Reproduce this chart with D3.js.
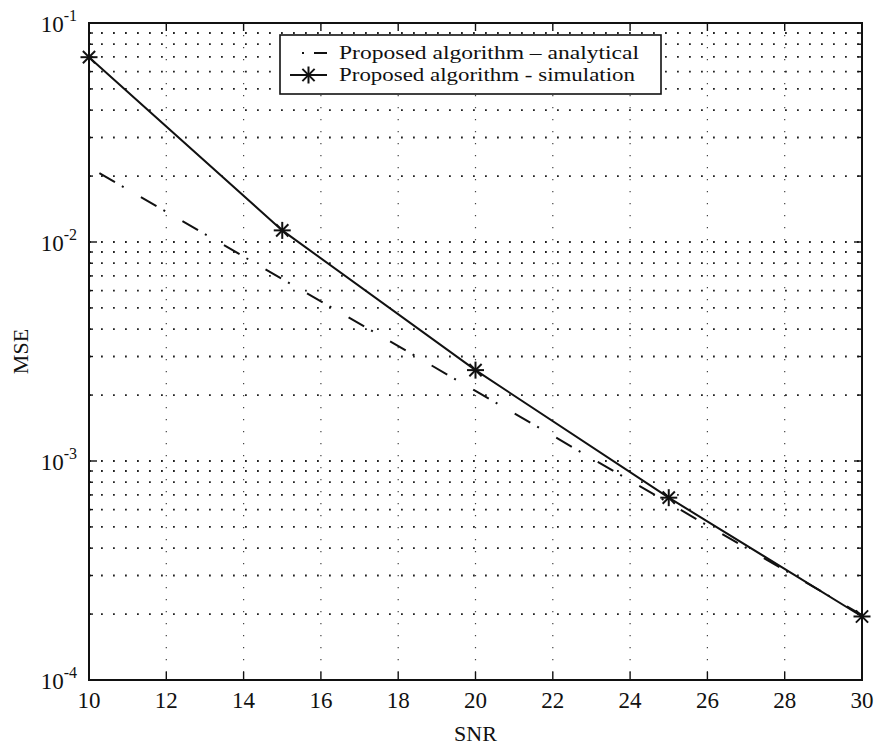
<!DOCTYPE html>
<html>
<head>
<meta charset="utf-8">
<script src="https://cdn.jsdelivr.net/npm/d3@7"></script>
<style>
  body { margin: 0; background: #fff; }
  text { font-family: "Liberation Serif", "DejaVu Serif", serif; fill: #111; }
</style>
</head>
<body>
<div id="chart"></div>
<script>
// data
const snr = [10, 15, 20, 25, 30];
const analytical = [0.0220, 0.00678, 0.00209, 0.000643, 0.000198];
const simulation = [0.0698, 0.0113, 0.0026, 0.00068, 0.000195];
const xTicks = [10, 12, 14, 16, 18, 20, 22, 24, 26, 28, 30];
const yDecades = [1e-4, 1e-3, 1e-2, 1e-1];
const legendLabels = ["Proposed algorithm \u2013 analytical", "Proposed algorithm - simulation"];

const W = 875, H = 745;
const margin = {top: 23, right: 13, bottom: 65, left: 89};
const iw = W - margin.left - margin.right;
const ih = H - margin.top - margin.bottom;

const svg = d3.select("#chart")
  .append("svg")
  .attr("width", W)
  .attr("height", H);

const x = d3.scaleLinear().domain([10, 30]).range([0, iw]);
const y = d3.scaleLog().domain([1e-4, 1e-1]).range([ih, 0]);

const g = svg.append("g")
  .attr("transform", `translate(${margin.left},${margin.top})`);

// minor grid values (2..9 in each decade)
const minors = [];
yDecades.slice(0, 3).forEach(d => {
  for (let k = 2; k <= 9; k++) minors.push(d * k);
});
const allY = yDecades.concat(minors);

//dotted grid
g.selectAll("line.hgrid").data(allY.filter(v => v > 1e-4 && v < 1e-1))
  .enter().append("line")
    .attr("class", "hgrid")
    .attr("x1", 0).attr("x2", iw)
    .attr("y1", d => y(d)).attr("y2", d => y(d))
    .attr("stroke", "#222")
    .attr("stroke-width", 1.8)
    .attr("stroke-dasharray", "1.8,10.2");

g.selectAll("line.vgrid").data(xTicks.slice(1, -1))
  .enter().append("line")
    .attr("class", "vgrid")
    .attr("x1", d => x(d)).attr("x2", d => x(d))
    .attr("y1", 0).attr("y2", ih)
    .attr("stroke", "#444")
    .attr("stroke-width", 1.2)
    .attr("stroke-dasharray", "1.2,10.8");

// ticks (inward, on all four sides)
const tickG = g.append("g").attr("stroke", "#111").attr("stroke-width", 1.4);
xTicks.forEach(t => {
  tickG.append("line").attr("x1", x(t)).attr("x2", x(t)).attr("y1", ih).attr("y2", ih - 8);
  tickG.append("line").attr("x1", x(t)).attr("x2", x(t)).attr("y1", 0).attr("y2", 8);
});
allY.forEach(v => {
  const len = yDecades.includes(v) ? 8 : 4;
  tickG.append("line").attr("x1", 0).attr("x2", len).attr("y1", y(v)).attr("y2", y(v));
  tickG.append("line").attr("x1", iw).attr("x2", iw - len).attr("y1", y(v)).attr("y2", y(v));
});

// frame
g.append("rect")
  .attr("x", 0).attr("y", 0)
  .attr("width", iw).attr("height", ih)
  .attr("fill", "none")
  .attr("stroke", "#111")
  .attr("stroke-width", 2);

// tick labels
g.selectAll("text.xt").data(xTicks)
  .enter().append("text")
    .attr("class", "xt")
    .attr("x", d => x(d))
    .attr("y", ih + 28)
    .attr("text-anchor", "middle")
    .attr("font-size", 23)
    .text(d => d);

yDecades.forEach(v => {
  const t = g.append("text")
    .attr("x", -12)
    .attr("y", y(v) + 9)
    .attr("text-anchor", "end")
    .attr("font-size", 23);
  t.append("tspan").text("10");
  t.append("tspan")
    .attr("dy", -11)
    .attr("font-size", 16)
    .text(Math.round(Math.log10(v)));
});

// axis titles
g.append("text")
  .attr("x", iw / 2)
  .attr("y", ih + 61)
  .attr("text-anchor", "middle")
  .attr("font-size", 22)
  .text("SNR");

g.append("text")
  .attr("transform", `translate(${-61},${ih / 2}) rotate(-90)`)
  .attr("text-anchor", "middle")
  .attr("font-size", 22)
  .text("MSE");

const line = d3.line()
  .x(d => x(d[0]))
  .y(d => y(d[1]));

// analytical (dash-dot)
g.append("path")
  .datum(d3.zip(snr, analytical))
  .attr("d", line)
  .attr("fill", "none")
  .attr("stroke", "#111")
  .attr("stroke-width", 2)
  .attr("stroke-dasharray", "0,12,18,8,2,8");

// simulation (solid with star markers)
g.append("path")
  .datum(d3.zip(snr, simulation))
  .attr("d", line)
  .attr("fill", "none")
  .attr("stroke", "#111")
  .attr("stroke-width", 2);

function star(sel, cx, cy, r) {
  const s = sel.append("g")
    .attr("transform", `translate(${cx},${cy})`)
    .attr("stroke", "#111")
    .attr("stroke-width", 2);
  const d = r * 0.72;
  s.append("line").attr("x1", -r).attr("x2", r).attr("y1", 0).attr("y2", 0);
  s.append("line").attr("x1", 0).attr("x2", 0).attr("y1", -r).attr("y2", r);
  s.append("line").attr("x1", -d).attr("x2", d).attr("y1", -d).attr("y2", d);
  s.append("line").attr("x1", -d).attr("x2", d).attr("y1", d).attr("y2", -d);
}

snr.forEach((s, i) => star(g, x(s), y(simulation[i]), 8.5));

// legend
const lg = svg.append("g").attr("transform", "translate(280,35)");
lg.append("rect")
  .attr("width", 381).attr("height", 59)
  .attr("fill", "#fff")
  .attr("stroke", "#111")
  .attr("stroke-width", 1.6);

lg.append("line")
  .attr("x1", 10).attr("x2", 47)
  .attr("y1", 18).attr("y2", 18)
  .attr("stroke", "#111").attr("stroke-width", 2)
  .attr("stroke-dasharray", "0,12,2,10,16,20");
lg.append("line")
  .attr("x1", 10).attr("x2", 47)
  .attr("y1", 40).attr("y2", 40)
  .attr("stroke", "#111").attr("stroke-width", 2);
star(lg, 28.5, 40, 8.5);

lg.selectAll("text.leg").data(legendLabels)
  .enter().append("text")
    .attr("class", "leg")
    .attr("x", 59)
    .attr("y", (d, i) => 24 + i * 22)
    .attr("font-size", 19.5)
    .attr("textLength", (d, i) => i === 0 ? 300 : 296)
    .attr("lengthAdjust", "spacingAndGlyphs")
    .text(d => d);
</script>
</body>
</html>
